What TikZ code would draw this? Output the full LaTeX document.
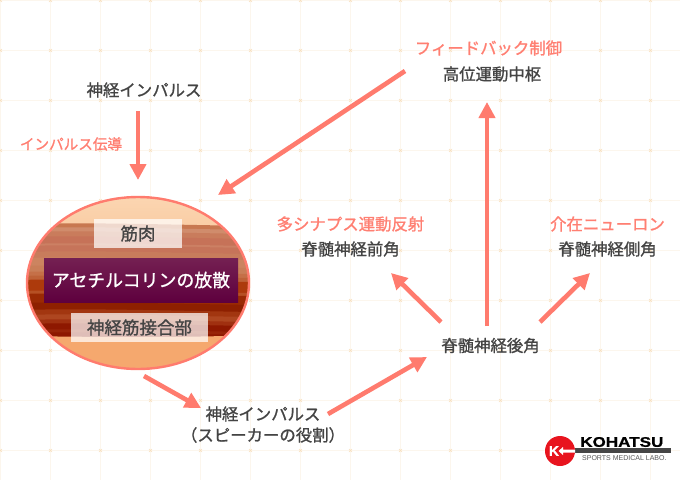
\documentclass[tikz,border=0pt]{standalone}
\usepackage{fontspec}
\setmainfont{Noto Sans CJK JP}[FakeBold=1.1]
\newfontfamily\logofont{Liberation Sans}[BoldFeatures={FakeBold=0.8}]
\usetikzlibrary{arrows.meta,shapes.geometric}
\definecolor{gridc}{HTML}{FCF6ED}
\definecolor{markc}{HTML}{F8DFBC}
\definecolor{arrowc}{HTML}{FF7B6E}
\definecolor{darkt}{HTML}{444444}
\definecolor{redt}{HTML}{FF7F72}
\definecolor{peachA}{RGB}{251,214,178}
\definecolor{peachB}{RGB}{244,163,103}
\definecolor{peachC}{RGB}{245,168,110}
\definecolor{purpA}{RGB}{116,32,82}
\definecolor{purpB}{RGB}{94,0,62}
\definecolor{logored}{RGB}{232,20,30}
\definecolor{logobar}{RGB}{70,70,70}
\newcommand{\mband}[2]{\definecolor{bandtmp}{HTML}{#2}\fill[bandtmp] (20,#1) .. controls (90,#1-2) and (180,#1+1) .. (255,#1+2) -- (255,345) -- (20,345) -- cycle;}
\tikzset{
  lab/.style={font=\fontsize{16.4}{18}\selectfont,text=darkt,inner sep=0pt},
  redlab/.style={font=\fontsize{16.4}{18}\selectfont,text=redt,inner sep=0pt},
  conn/.style={draw=arrowc,line width=4.6pt,-{Triangle[length=16pt,width=16pt]}},
  inbox/.style={inner sep=0pt,fill=white,fill opacity=.72,text opacity=1,text=darkt,font=\fontsize{17.5}{18}\selectfont},
}
\begin{document}
\begin{tikzpicture}[x=1pt,y=-1pt]
\useasboundingbox (0,0) rectangle (680,480);
\fill[white] (0,0) rectangle (680,480);
% grid
\foreach \x in {0,50,...,650} \draw[gridc,line width=1pt] (\x+.5,0) -- (\x+.5,480);
\foreach \y in {0,50,...,450} \draw[gridc,line width=1pt] (0,\y+.5) -- (680,\y+.5);
\foreach \x in {0,50,...,650} \foreach \y in {0,50,...,450} {
  \draw[markc,line width=.6pt] (\x-1,\y-1) -- (\x+2,\y+2) (\x-1,\y+2) -- (\x+2,\y-1);
}
% muscle ellipse
\begin{scope}
\clip (138,283) ellipse [x radius=111,y radius=86];
\fill[top color=peachA,bottom color=peachB] (20,195) rectangle (255,372);
\mband{224}{C87850}
\mband{228}{D08C6C}
\mband{232}{C97C5C}
\mband{237}{C67258}
\mband{244}{CC8064}
\mband{246}{C6745A}
\mband{252}{C87C5C}
\mband{258}{CC8460}
\mband{266}{C97E58}
\mband{272}{C57048}
\mband{276}{BE6238}
\mband{280}{AD3A0C}
\mband{291}{B65024}
\mband{294}{9A2A04}
\mband{303}{8E2000}
\mband{310}{A23610}
\mband{315}{AE4620}
\mband{320}{A03010}
\mband{324}{8E1800}
\mband{330}{982408}
\mband{333}{8E1800}
\fill[peachC] (20,336) .. controls (90,337) and (180,338) .. (255,335) -- (255,372) -- (20,372) -- cycle;
\end{scope}
\node[draw=arrowc,line width=2.4pt,ellipse,inner sep=0pt,outer sep=0pt,minimum width=222pt,minimum height=172pt] (muscle) at (138,283) {};
\node[inbox,minimum width=88pt,minimum height=29pt] (kin) at (138,233.5) {筋肉};
\node[inner sep=0pt,minimum width=194pt,minimum height=44pt,top color=purpA,bottom color=purpB,text=white,font=\fontsize{17.9}{18}\selectfont] (ach) at (141,280) {アセチルコリンの放散};
\node[inbox,minimum width=137pt,minimum height=29pt] (nmj) at (139.5,327.5) {神経筋接合部};
% labels
\node[lab] (imp1) at (144,90) {神経インパルス};
\node[redlab,font=\fontsize{14.6}{18}\selectfont] (impc) at (71,144) {インパルス伝導};
\node[redlab] (fb) at (488.5,48) {フィードバック制御};
\node[lab] (hc) at (492,74) {高位運動中枢};
\node[redlab] (poly) at (350.5,224) {多シナプス運動反射};
\node[lab] (ant) at (350.5,249) {脊髄神経前角};
\node[redlab] (inter) at (607.5,224) {介在ニューロン};
\node[lab] (lat) at (607.5,249) {脊髄神経側角};
\node[lab] (post) at (490.5,345.5) {脊髄神経後角};
\node[lab] (imp2) at (263,414) {神経インパルス};
\node[lab] (spk) at (263,435) {（スピーカーの役割）};
% connector ends
\coordinate (a1s) at (138,111);
\coordinate (a1e) at (138,180);
\coordinate (a2s) at (405,71);
\coordinate (a2e) at (218,195);
\coordinate (a3s) at (487,326);
\coordinate (a3e) at (487,102);
\coordinate (a4s) at (441,322);
\coordinate (a4e) at (391,273);
\coordinate (a5s) at (540,322);
\coordinate (a5e) at (590,273);
\coordinate (a6s) at (328,414);
\coordinate (a6e) at (427,357);
\coordinate (a7s) at (144,376);
\coordinate (a7e) at (201,408);
\draw[conn] (a1s) -- (a1e);
\draw[conn] (a2s) -- (a2e);
\draw[conn] (a3s) -- (a3e);
\draw[conn] (a4s) -- (a4e);
\draw[conn] (a5s) -- (a5e);
\draw[conn] (a6s) -- (a6e);
\draw[conn] (a7s) -- (a7e);
% logo
\fill[logored] (560,451) circle (15);
\fill[logobar] (575,448) rectangle (671,453);
\node[inner sep=0pt,text=white,font=\logofont\bfseries\fontsize{14}{15}\selectfont] (logok) at (554,451) {K};
\fill[white] (558.5,451) -- (563,447) -- (563,449.5) -- (575,449.5) -- (575,452.5) -- (563,452.5) -- (563,455) -- cycle;
\node[inner sep=0pt,anchor=west,text=black,font=\logofont\bfseries\fontsize{14}{14}\selectfont] (logot) at (580,442) {\scalebox{1.22}[1]{KOHATSU}};
\node[inner sep=0pt,anchor=west,text=black!65,font=\logofont\fontsize{7}{8}\selectfont] (logos) at (582,458) {SPORTS MEDICAL LABO.};
\end{tikzpicture}
\end{document}
